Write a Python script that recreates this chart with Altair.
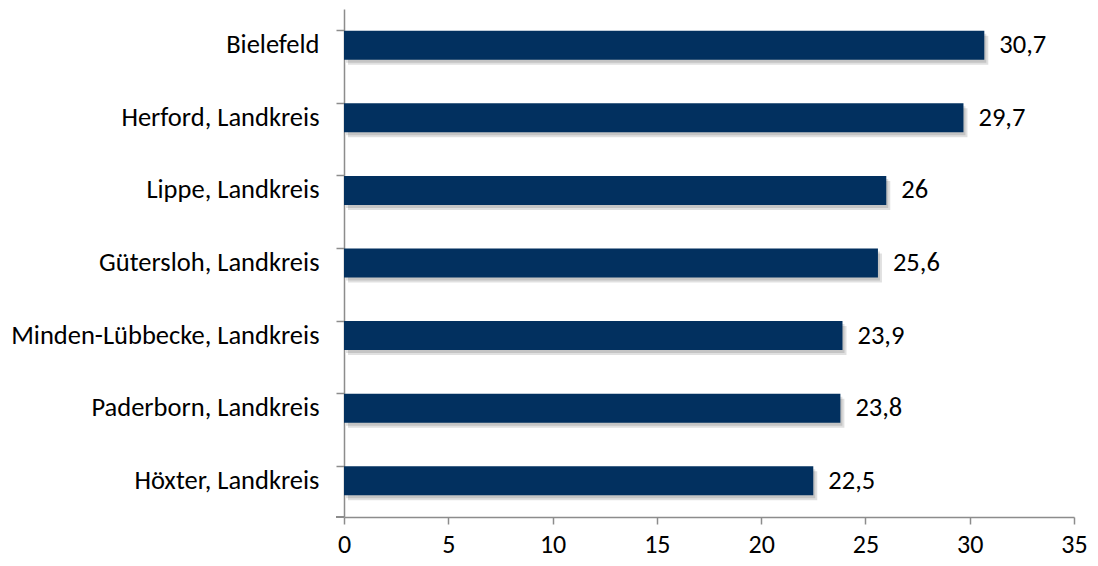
import altair as alt
import pandas as pd

regions = ["Bielefeld", "Herford, Landkreis", "Lippe, Landkreis", "Gütersloh, Landkreis",
           "Minden-Lübbecke, Landkreis", "Paderborn, Landkreis", "Höxter, Landkreis"]
values = [30.7, 29.7, 26.0, 25.6, 23.9, 23.8, 22.5]
x_ticks = [0, 5, 10, 15, 20, 25, 30, 35]

def fmt(v):
    return ("%g" % v).replace(".", ",")

df = pd.DataFrame({"region": regions, "value": values, "label": [fmt(v) for v in values]})

W, H = 730, 508
FONT = "Carlito, Calibri, Lato"
FS = 26.5
AXIS_COLOR = "#8c8c8c"
BAR_COLOR = "#02305F"

yscale = alt.Scale(paddingInner=0.6, paddingOuter=0.3)
xscale = alt.Scale(domain=[0, 35], nice=False)

y_axis = alt.Y("region:N", sort=regions, title=None, scale=yscale,
               axis=alt.Axis(bandPosition=0, tickSize=8, tickColor=AXIS_COLOR, tickWidth=1.5,
                             domainColor=AXIS_COLOR, domainWidth=1.5, labelFontSize=FS,
                             labelFont=FONT, labelColor="#000000", labelPadding=17,
                             labelLimit=400, grid=False))
x_axis = alt.X("value:Q", title=None, scale=xscale,
               axis=alt.Axis(values=x_ticks, tickSize=7, tickColor=AXIS_COLOR, tickWidth=1.5,
                             domainColor=AXIS_COLOR, domainWidth=1.5, labelFontSize=26,
                             labelFont=FONT, labelColor="#000000", labelPadding=7,
                             grid=False, labelFlush=False))
x_plain = alt.X("value:Q")
y_plain = alt.Y("region:N", sort=regions)

base = alt.Chart(df)

shadow1 = base.mark_bar(color="#000000", opacity=0.12, xOffset=4, yOffset=5).encode(
    x=x_axis, y=y_axis)
shadow2 = base.mark_bar(color="#000000", opacity=0.12, xOffset=2, yOffset=3).encode(
    x=x_plain, y=y_plain)

bars = base.mark_bar(color=BAR_COLOR).encode(x=x_plain, y=y_plain)

text = base.mark_text(align="left", baseline="middle", dx=15, fontSize=FS, font=FONT,
                      color="#000000").encode(x=x_plain, y=y_plain, text="label:N")

bottom_tick = alt.Chart(df).mark_rule(color=AXIS_COLOR, strokeWidth=1.5).encode(
    x=alt.value(-8), x2=alt.value(0), y=alt.value(H))

chart = alt.layer(shadow1, shadow2, bars, text, bottom_tick).properties(
    width=W, height=H,
    background="white",
    autosize=alt.AutoSizeParams(type="none"),
    padding={"left": 336, "top": 1, "right": 16, "bottom": 41},
).configure_view(stroke=None)

chart.save("out.html", embed_options={"renderer": "svg", "actions": False})
